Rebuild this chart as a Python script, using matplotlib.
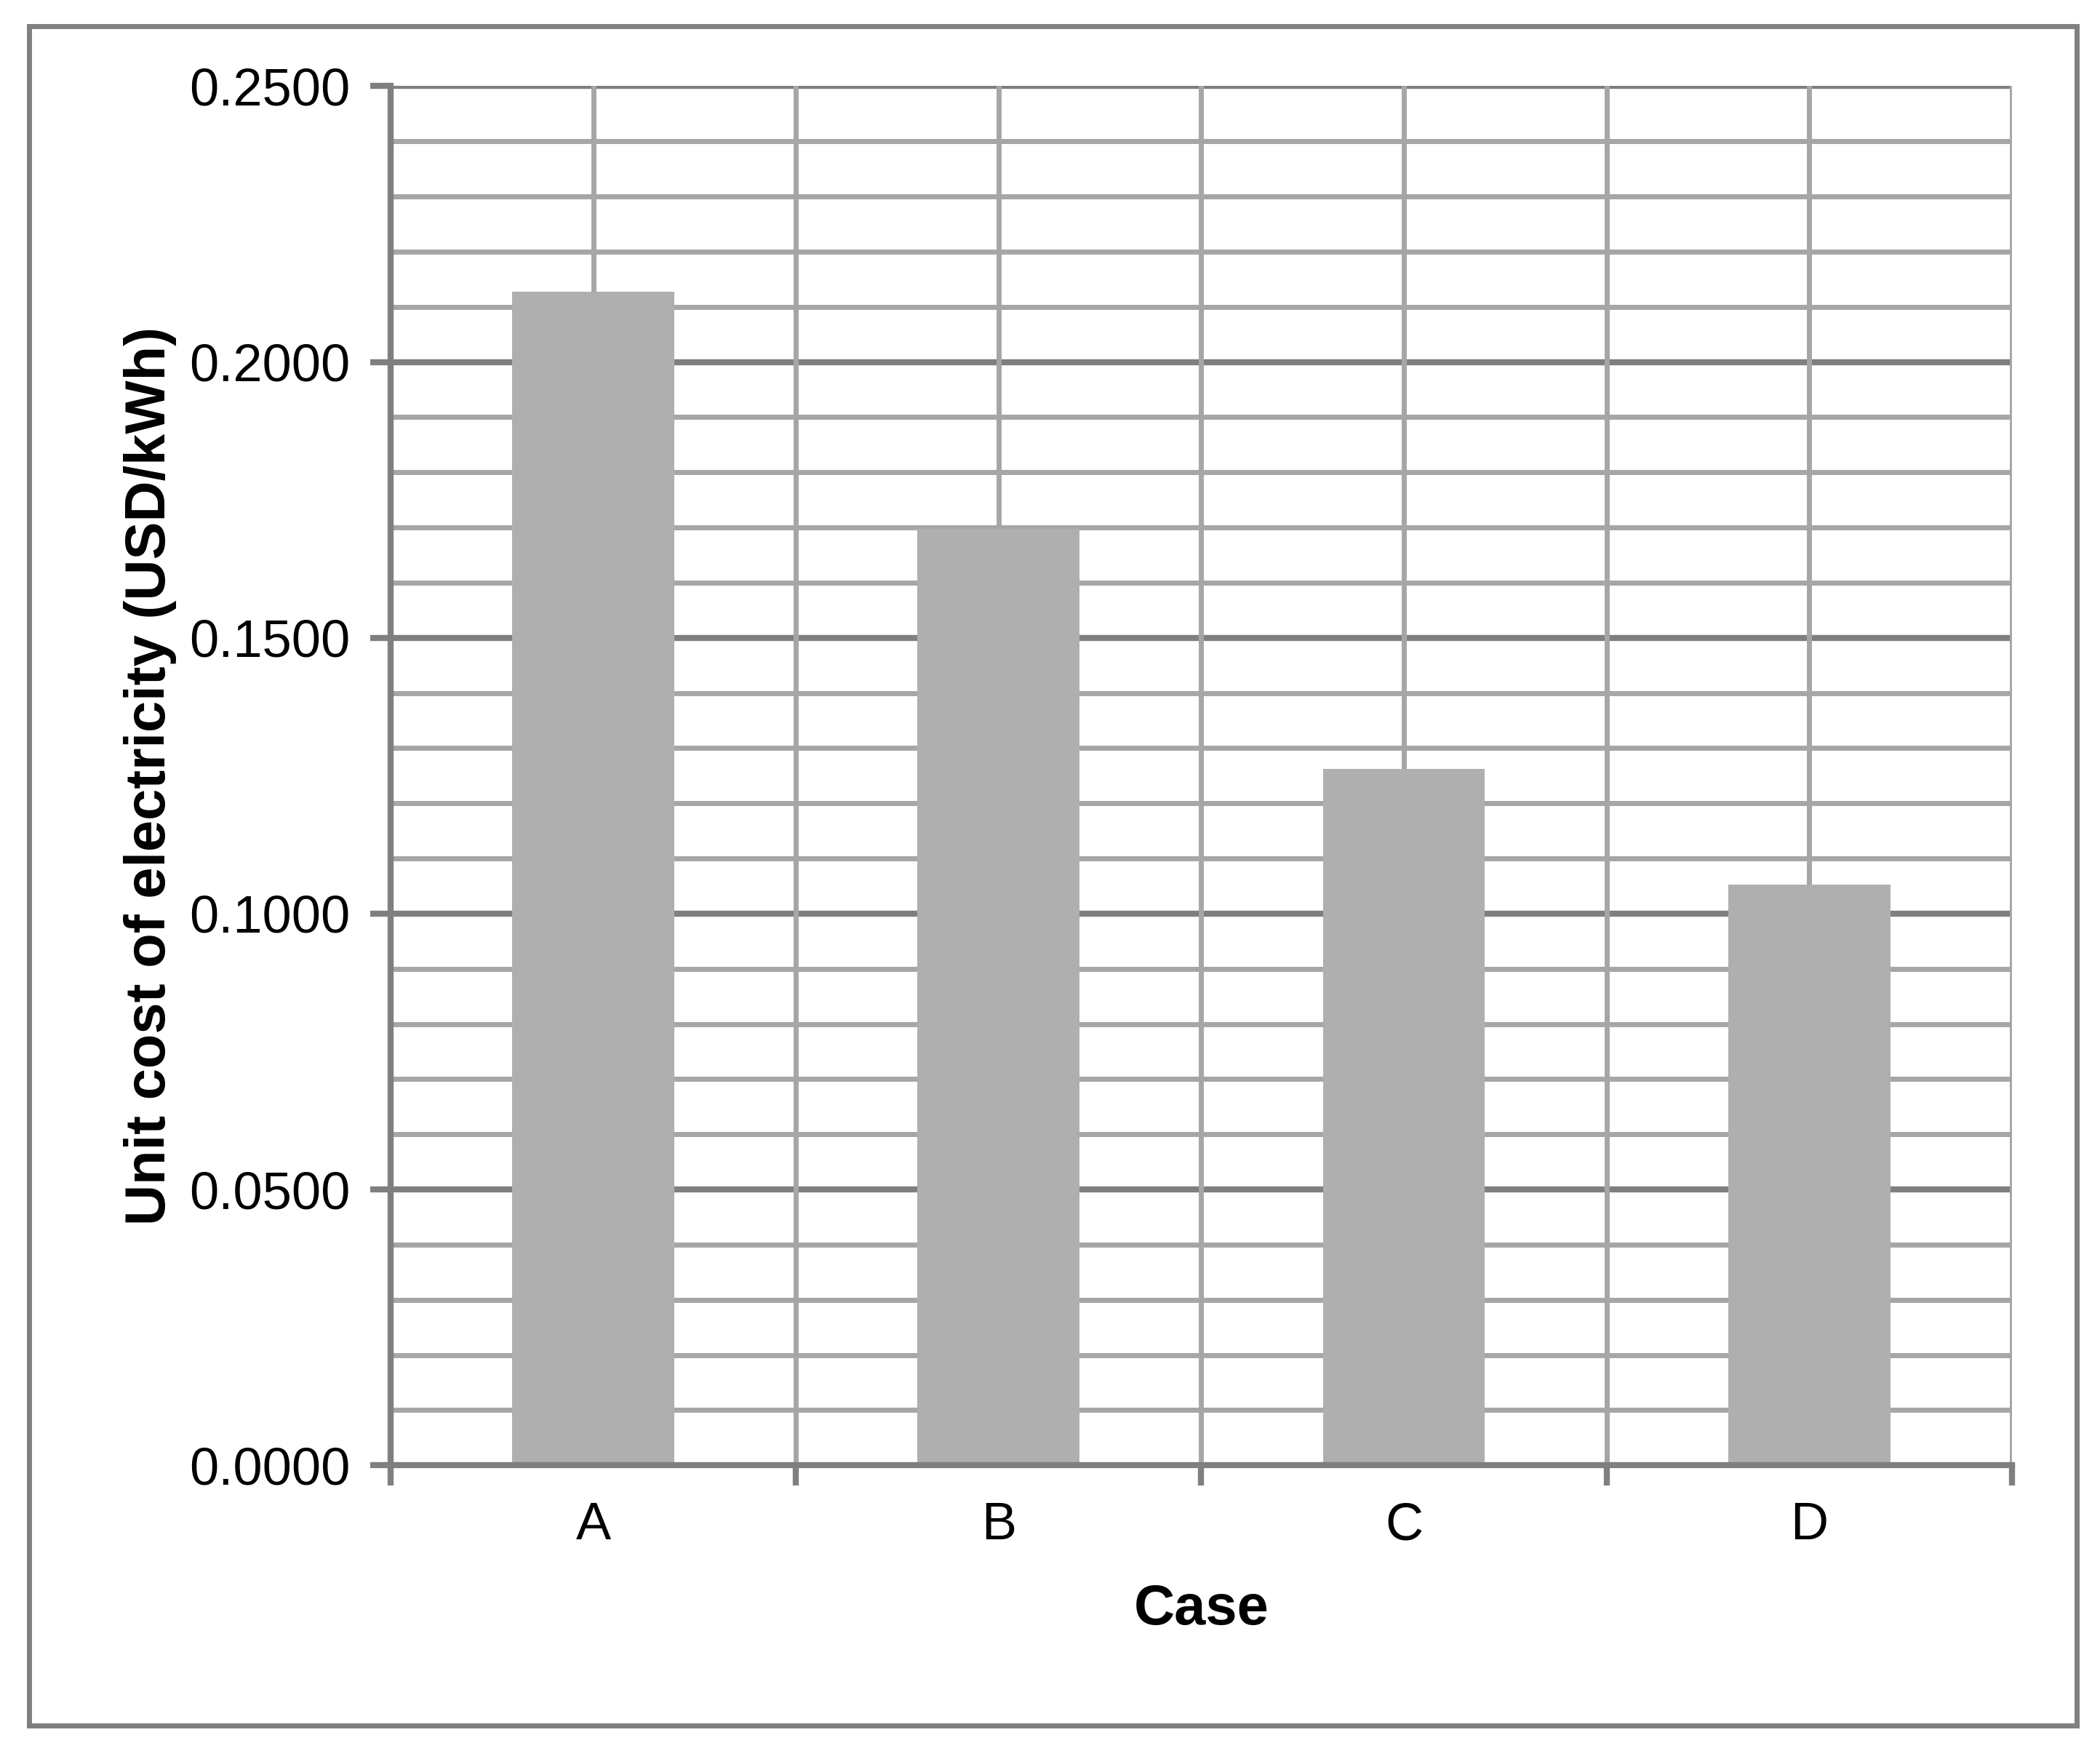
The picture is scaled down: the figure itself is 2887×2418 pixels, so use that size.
import numpy as np
import matplotlib.pyplot as plt
from matplotlib.patches import Rectangle

plt.rcParams['font.family'] = ['Liberation Sans', 'DejaVu Sans']

cases = ["A", "B", "C", "D"]
cost = [0.2128, 0.1697, 0.1262, 0.1053]

fig = plt.figure(figsize=(14.435, 12.09), dpi=200)
ax = fig.add_axes([0.186, 0.167, 0.772, 0.784])

x = np.arange(len(cases))
ax.set_xlim(-0.5, 3.5)
ax.set_ylim(0, 0.25)

# minor grid every 0.01, major every 0.05
for v in np.arange(0.01, 0.25, 0.01):
    if abs(v / 0.05 - round(v / 0.05)) > 1e-6:
        ax.axhline(v, color="#a6a6a6", lw=2.5, zorder=0)
for v in np.arange(0.05, 0.2501, 0.05):
    ax.axhline(v, color="#7f7f7f", lw=3, zorder=0)
for v in np.arange(-0.5, 3.51, 0.5):
    ax.axvline(v, color="#a6a6a6", lw=2.5, zorder=0)

ax.bar(x, cost, width=0.4, color="#afafaf", zorder=2)

ax.set_yticks(np.arange(0, 0.2501, 0.05))
ax.set_yticklabels(["%.4f" % v for v in np.arange(0, 0.2501, 0.05)])
ax.set_xticks(x)
ax.set_xticklabels(cases)
ax.set_xticks(np.arange(-0.5, 3.51, 1.0), minor=True)
ax.tick_params(axis="x", which="major", length=0, labelsize=26, pad=18)
ax.tick_params(axis="x", which="minor", length=10, width=3, color="#7f7f7f")
ax.tick_params(axis="y", length=10, width=3, color="#7f7f7f", labelsize=26, pad=10)

for s in ["top", "right"]:
    ax.spines[s].set_visible(False)
ax.spines["left"].set_color("#7f7f7f")
ax.spines["left"].set_linewidth(3)
ax.spines["bottom"].set_color("#7f7f7f")
ax.spines["bottom"].set_linewidth(3)

ax.set_xlabel("Case", fontsize=28, fontweight="bold", labelpad=16)
ax.set_ylabel("Unit cost of electricity (USD/kWh)", fontsize=28, fontweight="bold", labelpad=6)

fig.patches.append(Rectangle((0.014, 0.019), 0.975, 0.966, transform=fig.transFigure,
                             fill=False, edgecolor="#7f7f7f", lw=2.5))

fig.savefig("out.png", dpi=200)
